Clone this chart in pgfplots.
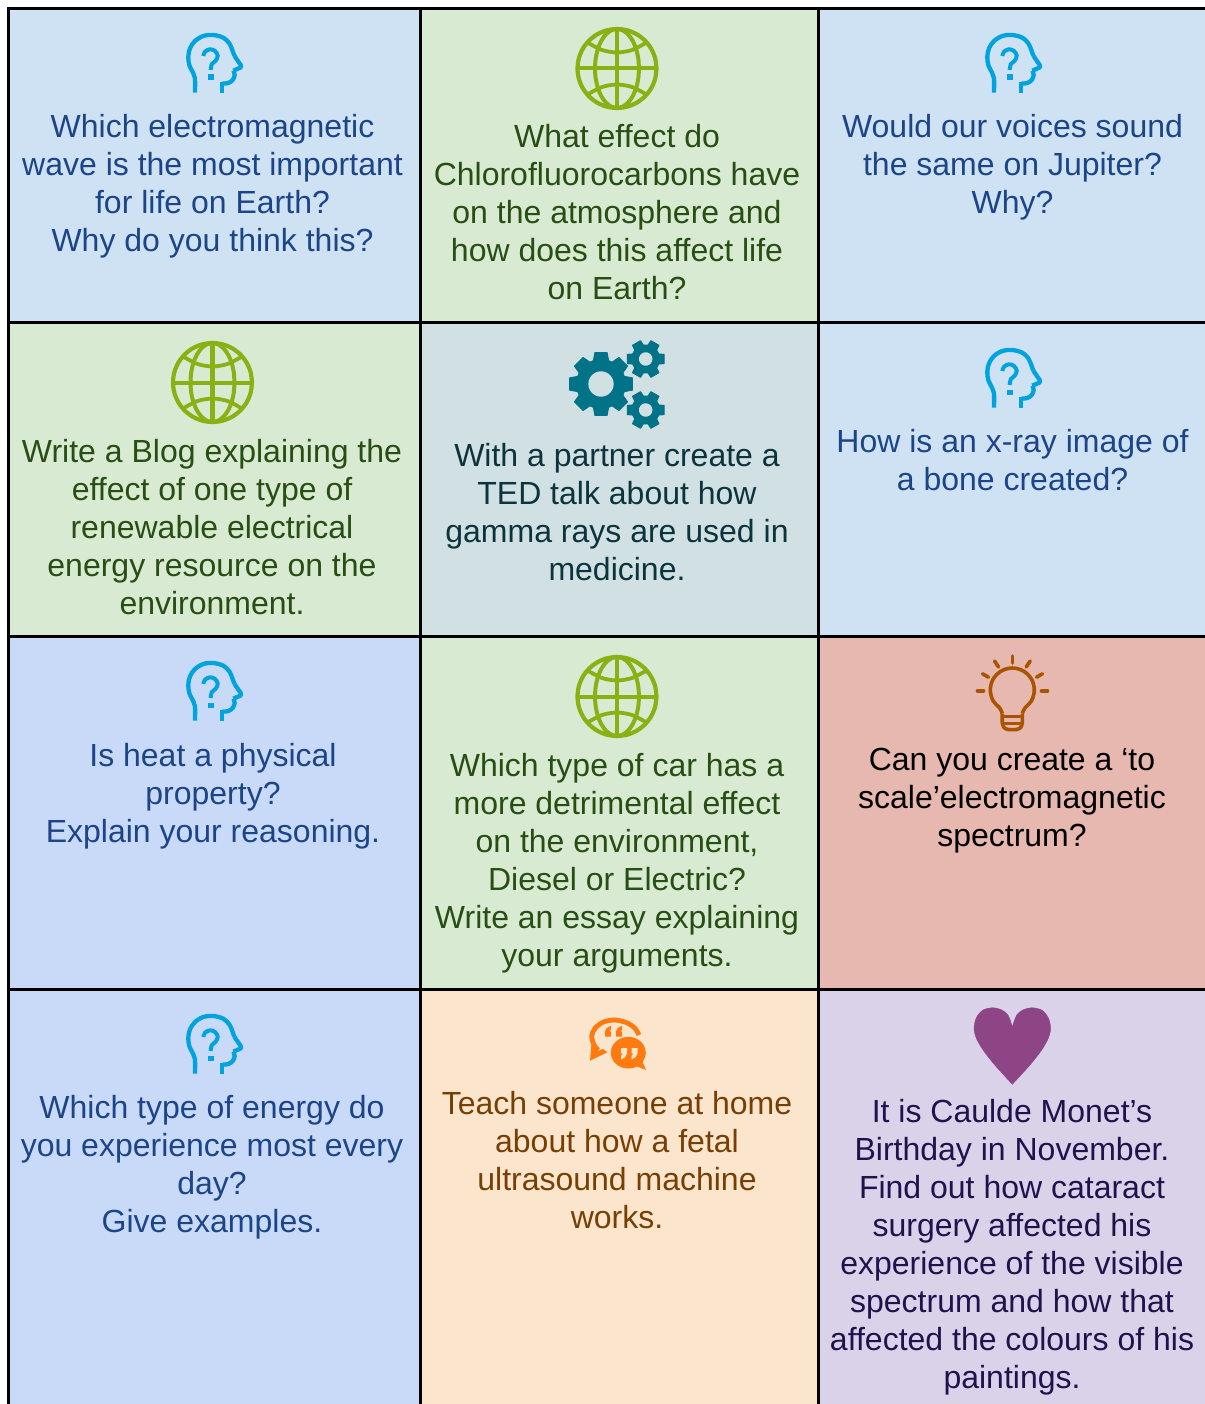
\documentclass[border=0pt]{standalone}
\usepackage{pgfplots}
\usepackage{pgfplotstable}
\usepackage{fontspec}
\setmainfont{Liberation Sans}
\pgfplotsset{compat=1.18}
\definecolor{cA}{HTML}{CFE2F3}
\definecolor{cG}{HTML}{D9EAD3}
\definecolor{cT}{HTML}{D0E0E3}
\definecolor{cB}{HTML}{C9DAF8}
\definecolor{cR}{HTML}{E6B8AF}
\definecolor{cO}{HTML}{FCE5CD}
\definecolor{cP}{HTML}{D9D2E9}
\definecolor{tB}{HTML}{1C4587}
\definecolor{tG}{HTML}{274E13}
\definecolor{tT}{HTML}{0C343D}
\definecolor{tO}{HTML}{783F04}
\definecolor{tP}{HTML}{20124D}
\definecolor{iHead}{HTML}{00A3DD}
\definecolor{iGlobe}{HTML}{8AB013}
\definecolor{iGear}{HTML}{017388}
\definecolor{iBulb}{HTML}{A85400}
\definecolor{iTalk}{HTML}{FF7B0F}
\definecolor{iHeart}{HTML}{8E4585}
\pgfplotsset{pl/.style n args={4}{x filter/.expression={#1+#3*x},y filter/.expression={#2+#4*y}}}
\pgfplotstableread{
x y
1 0
.966 .259
.866 .5
.707 .707
.5 .866
.259 .966
0 1
-.259 .966
-.5 .866
-.707 .707
-.866 .5
-.966 .259
-1 0
-.966 -.259
-.866 -.5
-.707 -.707
-.5 -.866
-.259 -.966
0 -1
.259 -.966
.5 -.866
.707 -.707
.866 -.5
.966 -.259
1 0
}\unitc
\pgfplotstableread{
x y
25 67.7
25 53.3
23.3 48.3
19.3 40
18.3 31.7
20 23.3
25 16
33.3 11
43.3 10
53.3 12.7
59.3 18.3
62.3 25
64.3 30.7
}\headA
\pgfplotstableread{
x y
64.3 30.7
70.7 40
71 42.3
63.3 45.7
}\headB
\pgfplotstableread{
x y
63.3 45.7
64.7 50
62.7 55
58.3 58
52 58.7
}\headC
\pgfplotstableread{
x y
33.3 31
35 26.7
40 24.3
45 26
47.7 30.7
45.7 35.7
41.7 39.3
40.7 45
}\headQ
\pgfplotstableread{
x y
-28.3 -25.3
-15 -18.5
0 -16
15 -18.5
28.3 -25.3
}\arcT
\pgfplotstableread{
x y
-28.3 25.3
-15 18.5
0 16
15 18.5
28.3 25.3
}\arcB
\pgfplotstableread{
x y
31.4 -6.1
31.4 6.1
23.3 7.6
21.8 11.1
26.5 17.9
17.9 26.5
11.1 21.8
7.6 23.3
6.1 31.4
-6.1 31.4
-7.6 23.3
-11.1 21.8
-17.9 26.5
-26.5 17.9
-21.8 11.1
-23.3 7.6
-31.4 6.1
-31.4 -6.1
-23.3 -7.6
-21.8 -11.1
-26.5 -17.9
-17.9 -26.5
-11.1 -21.8
-7.6 -23.3
-6.1 -31.4
6.1 -31.4
7.6 -23.3
11.1 -21.8
17.9 -26.5
26.5 -17.9
21.8 -11.1
23.3 -7.6
}\gearB
\pgfplotstableread{
x y
18.4 -4.6
18.4 4.6
13.1 5
10.9 8.8
13.2 13.7
5.2 18.3
2.2 13.8
-2.2 13.8
-5.2 18.3
-13.2 13.7
-10.9 8.8
-13.1 5
-18.4 4.6
-18.4 -4.6
-13.1 -5
-10.9 -8.8
-13.2 -13.7
-5.2 -18.3
-2.2 -13.8
2.2 -13.8
5.2 -18.3
13.2 -13.7
10.9 -8.8
13.1 -5
}\gearS
\pgfplotstableread{
x y
62.3 68.5
64.9 63
71.4 56
74.3 45
71.4 34
63.3 26
52.3 23
41.3 26
33.2 34
30.3 45
33.2 56
39.7 63
42.3 68.5
}\bulbA
\pgfplotstableread{
x y
42.3 68.5
42.3 78
44 82.5
48 84.5
56.6 84.5
60.6 82.5
62.3 78
62.3 68.5
}\bulbB
\pgfplotstableread{
x y
69 35
65 28.3
56.7 22.7
45 20
33.3 22
25 28.3
21.7 36
24 45
28.3 50
}\talkA
\pgfplotstableread{
x y
52.3 31.7
56.7 20
63.3 14.7
71.7 12.7
81.7 15
88.3 22.7
90.7 33.3
88.3 43.3
81.7 55
70 70
52.3 89.3
}\heartR
\pgfplotstableread{
x y
52.3 89.3
34.7 70
23 55
16.3 43.3
14 33.3
16.3 22.7
23 15
33 12.7
41.3 14.7
48 20
52.3 31.7
}\heartL
\newcommand{\cellbg}[5]{\addplot[fill=#5,draw=none] coordinates {(#1,#2) (#3,#2) (#3,#4) (#1,#4)};}
\newcommand{\head}[2]{%
 \addplot[iHead,line width=4.3pt,smooth,tension=.55,pl={#1}{#2}{1}{1}] table {\headA};
 \addplot[iHead,line width=4.3pt,line join=round,pl={#1}{#2}{1}{1}] table {\headB};
 \addplot[iHead,line width=4.3pt,smooth,tension=.55,pl={#1}{#2}{1}{1}] table {\headC};
 \addplot[iHead,line width=4.3pt,pl={#1}{#2}{1}{1}] coordinates {(52,57) (52,67.7)};
 \addplot[iHead,line width=4pt,smooth,tension=.6,pl={#1}{#2}{1}{1}] table {\headQ};
 \addplot[iHead,fill=iHead,draw=none,pl={#1}{#2}{1}{1}] coordinates {(38.2,49.5) (43.6,49.5) (43.6,54.8) (38.2,54.8)};
}
\newcommand{\globe}[2]{%
 \addplot[iGlobe,line width=4.2pt,smooth,pl={#1}{#2}{39.5}{39.5}] table {\unitc};
 \addplot[iGlobe,line width=4pt,smooth,pl={#1}{#2}{22}{39.5}] table {\unitc};
 \addplot[iGlobe,line width=4.2pt,pl={#1}{#2}{1}{1}] coordinates {(0,-39.5) (0,39.5)};
 \addplot[iGlobe,line width=4pt,pl={#1}{#2}{1}{1}] coordinates {(-39.5,0) (39.5,0)};
 \addplot[iGlobe,line width=3.8pt,smooth,pl={#1}{#2}{1}{1}] table {\arcT};
 \addplot[iGlobe,line width=3.8pt,smooth,pl={#1}{#2}{1}{1}] table {\arcB};
}
\newcommand{\cellt}[4]{\node[anchor=north,align=center,inner sep=0pt,text=#3,font=\fontsize{32}{38}\selectfont] at (axis cs:#1,#2-26) {\rule{0pt}{26pt}#4};}
\begin{document}%
\begin{tikzpicture}%
\begin{axis}[hide axis,scale only axis,width=1212pt,height=1404pt,xmin=0,xmax=1212,ymin=0,ymax=1404,y dir=reverse,clip=true,axis on top=false]
% page
\cellbg{0}{0}{1212}{1404}{white}
% cells
\cellbg{9}{9}{420}{322}{cA}
\cellbg{420}{9}{818}{322}{cG}
\cellbg{818}{9}{1212}{322}{cA}
\cellbg{9}{322}{420}{636}{cG}
\cellbg{420}{322}{818}{636}{cT}
\cellbg{818}{322}{1212}{636}{cA}
\cellbg{9}{636}{420}{989}{cB}
\cellbg{420}{636}{818}{989}{cG}
\cellbg{818}{636}{1212}{989}{cR}
\cellbg{9}{989}{420}{1404}{cB}
\cellbg{420}{989}{818}{1404}{cO}
\cellbg{818}{989}{1212}{1404}{cP}
% rules
\cellbg{7}{7}{10}{1404}{black}
\cellbg{418.8}{7}{421.8}{1404}{black}
\cellbg{816.5}{7}{819.5}{1404}{black}
\cellbg{7}{7}{1212}{10}{black}
\cellbg{7}{320.8}{1212}{323.8}{black}
\cellbg{7}{634.5}{1212}{637.5}{black}
\cellbg{7}{988}{1212}{991}{black}
% heads
\head{170}{25}
\head{969}{25}
\head{969}{340}
\head{170}{653}
\head{170}{1006}
% globes
\globe{617}{68.5}
\globe{212.5}{382.5}
\globe{617}{696.5}
% gears
\addplot[iGear,fill=iGear,line width=1pt,line join=round,pl={601}{384}{1}{1}] table {\gearB} -- cycle;
\addplot[cT,fill=cT,draw=none,smooth,pl={601}{384}{12.7}{12.7}] table {\unitc};
\addplot[iGear,fill=iGear,line width=1pt,line join=round,pl={645.7}{359}{1}{1}] table {\gearS} -- cycle;
\addplot[cT,fill=cT,draw=none,smooth,pl={645.7}{359}{6.7}{6.7}] table {\unitc};
\addplot[iGear,fill=iGear,line width=1pt,line join=round,pl={645.7}{410}{1}{1}] table {\gearS} -- cycle;
\addplot[cT,fill=cT,draw=none,smooth,pl={645.7}{410}{6.7}{6.7}] table {\unitc};
% bulb
\addplot[iBulb,line width=3.6pt,smooth,tension=.6,pl={960}{645}{1}{1}] table {\bulbA};
\addplot[iBulb,line width=3.6pt,smooth,tension=.4,pl={960}{645}{1}{1}] table {\bulbB};
\addplot[iBulb,line width=3pt,pl={960}{645}{1}{1}] coordinates {(42,71.5) (62.6,71.5)};
\addplot[iBulb,line width=3pt,pl={960}{645}{1}{1}] coordinates {(42,78.3) (62.6,78.3)};
\addplot[iBulb,line width=3.6pt,line cap=round,pl={960}{645}{1}{1}] coordinates {(52.3,11) (52.3,18)};
\addplot[iBulb,line width=3.6pt,line cap=round,pl={960}{645}{1}{1}] coordinates {(34.5,16) (38.5,22)};
\addplot[iBulb,line width=3.6pt,line cap=round,pl={960}{645}{1}{1}] coordinates {(70.2,16) (66.2,22)};
\addplot[iBulb,line width=3.6pt,line cap=round,pl={960}{645}{1}{1}] coordinates {(22.5,28.8) (28.5,32.2)};
\addplot[iBulb,line width=3.6pt,line cap=round,pl={960}{645}{1}{1}] coordinates {(82.5,28.8) (76.5,32.2)};
\addplot[iBulb,line width=3.6pt,line cap=round,pl={960}{645}{1}{1}] coordinates {(17.5,45.7) (23.5,45.7)};
\addplot[iBulb,line width=3.6pt,line cap=round,pl={960}{645}{1}{1}] coordinates {(81.5,45.7) (87.5,45.7)};
% speech
\addplot[iTalk,line width=4.8pt,smooth,pl={570}{1000}{1}{1}] table {\talkA};
\addplot[iTalk,fill=iTalk,draw=none,pl={570}{1000}{1}{1}] coordinates {(21.5,43) (20,60.7) (37.3,52.3) (33,49) (28.3,50.7) (28.3,48)};
\addplot[iTalk,fill=iTalk,draw=none,smooth,pl={628.3}{1052.7}{17.5}{15.8}] table {\unitc};
\addplot[iTalk,fill=iTalk,draw=none,pl={570}{1000}{1}{1}] coordinates {(63.3,65) (76,70) (71.7,60)};
\addplot[iTalk,fill=iTalk,draw=none,pl={570}{1000}{1}{1}] coordinates {(35.2,36.7) (34.8,31.7) (36.7,28) (41.2,25.5) (41.2,29.3) (39.7,31.2) (41.2,31.7) (41.2,36.7)};
\addplot[iTalk,fill=iTalk,draw=none,pl={581}{1000}{1}{1}] coordinates {(35.2,36.7) (34.8,31.7) (36.7,28) (41.2,25.5) (41.2,29.3) (39.7,31.2) (41.2,31.7) (41.2,36.7)};
\addplot[cO,fill=cO,draw=none,pl={570}{1000}{1}{1}] coordinates {(51.2,48) (57,48) (57,53.3) (55.2,57) (51.2,59.5) (51.2,55.7) (52.7,53.8) (51.2,53.3)};
\addplot[cO,fill=cO,draw=none,pl={580.5}{1000}{1}{1}] coordinates {(51.2,48) (57,48) (57,53.3) (55.2,57) (51.2,59.5) (51.2,55.7) (52.7,53.8) (51.2,53.3)};
% heart
\addplot[iHeart,fill=iHeart,line width=.3pt,smooth,tension=.5,pl={960}{995}{1}{1}] table {\heartR};
\addplot[iHeart,fill=iHeart,line width=.3pt,smooth,tension=.5,pl={960}{995}{1}{1}] table {\heartL};
\addplot[iHeart,fill=iHeart,draw=none,pl={960}{995}{1}{1}] coordinates {(52.3,31.7) (62,50) (52.3,89) (42,50)};
% text
\cellt{212.5}{137}{tB}{Which electromagnetic\\wave is the most important\\for life on Earth?\\Why do you think this?}
\cellt{617}{147}{tG}{What effect do\\Chlorofluorocarbons have\\on the atmosphere and\\how does this affect life\\on Earth?}
\cellt{1012.5}{137}{tB}{Would our voices sound\\the same on Jupiter?\\Why?}
\cellt{212}{462}{tG}{Write a Blog explaining the\\effect of one type of\\renewable electrical\\energy resource on the\\environment.}
\cellt{617}{466}{tT}{With a partner create a\\TED talk about how\\gamma rays are used in\\medicine.}
\cellt{1012.5}{452}{tB}{How is an x-ray image of\\a bone created?}
\cellt{213}{766}{tB}{Is heat a physical\\property?\\Explain your reasoning.}
\cellt{617}{776}{tG}{Which type of car has a\\more detrimental effect\\on the environment,\\Diesel or Electric?\\Write an essay explaining\\your arguments.}
\cellt{1012}{770}{black}{Can you create a ‘to\\scale’electromagnetic\\spectrum?}
\cellt{212}{1118}{tB}{Which type of energy do\\you experience most every\\day?\\Give examples.}
\cellt{617}{1114}{tO}{Teach someone at home\\about how a fetal\\ultrasound machine\\works.}
\cellt{1012}{1122}{tP}{It is Caulde Monet’s\\Birthday in November.\\Find out how cataract\\surgery affected his\\experience of the visible\\spectrum and how that\\affected the colours of his\\paintings.}
\end{axis}
\pgfresetboundingbox
\path[use as bounding box] (0,0) rectangle (1204pt,1404pt);
\end{tikzpicture}%
\end{document}
